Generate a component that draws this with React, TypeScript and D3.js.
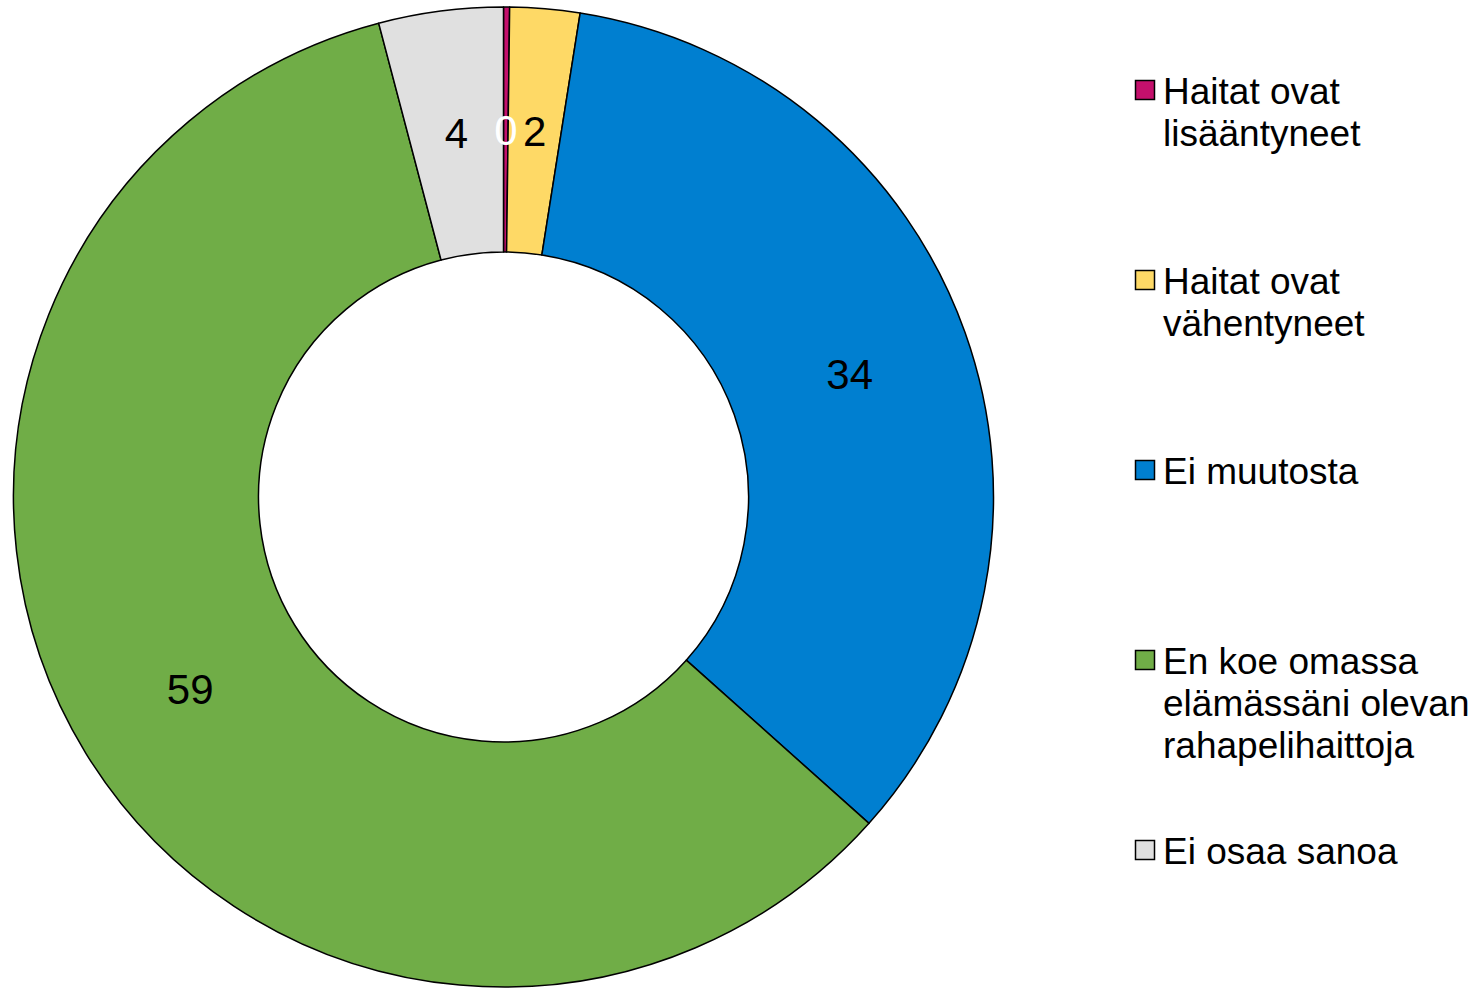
import React from "react";
import * as d3 from "d3";

const categories = [
  "Haitat ovat lisääntyneet",
  "Haitat ovat vähentyneet",
  "Ei muutosta",
  "En koe omassa elämässäni olevan rahapelihaittoja",
  "Ei osaa sanoa",
];
const values = [0.2, 2.3, 34.1, 59.3, 4.1];
const labels = ["0", "2", "34", "59", "4"];
const legendLines = [
  ["Haitat ovat", "lisääntyneet"],
  ["Haitat ovat", "vähentyneet"],
  ["Ei muutosta"],
  ["En koe omassa", "elämässäni olevan", "rahapelihaittoja"],
  ["Ei osaa sanoa"],
];
const colors = ["#C4106C", "#FED966", "#007FD0", "#70AD47", "#E0E0E0"];
const labelColors = ["#FFFFFF", "#000000", "#000000", "#000000", "#000000"];

const W = 1478;
const H = 988;
const cx = 503.5;
const cy = 497;
const outerR = 490;
const innerR = 245;
const font = "'Liberation Sans', Arial, sans-serif";

export default function App() {
  const pie = d3.pie<number>().sort(null).value((d) => d);
  const arcs = pie(values);
  const arc = d3.arc<d3.PieArcDatum<number>>().innerRadius(innerR).outerRadius(outerR);
  const legendY = d3.scaleBand<number>().domain(d3.range(categories.length)).range([-4.5, 945.5]);

  return (
    <svg width={W} height={H} style={{ position: "absolute", left: 0, top: 0, background: "#fff" }}>
      <g transform={`translate(${cx},${cy})`}>
        {arcs.map((a, i) => (
          <path key={i} d={arc(a) || ""} fill={colors[i]} stroke="#000" strokeWidth={1.5} strokeLinejoin="round" />
        ))}
        {arcs.map((a, i) => {
          const [x, y] = arc.centroid(a);
          return (
            <text key={i} x={x} y={y} dy="0.36em" textAnchor="middle" fontFamily={font} fontSize={42} fill={labelColors[i]}>
              {labels[i]}
            </text>
          );
        })}
      </g>
      {categories.map((c, i) => {
        const y0 = (legendY(i) || 0) + legendY.bandwidth() / 2;
        return (
          <g key={c}>
            <rect x={1135.5} y={y0 - 10} width={19} height={19} fill={colors[i]} stroke="#000" strokeWidth={1.5} />
            <text fontFamily={font} fontSize={37} fill="#000">
              {legendLines[i].map((l, j) => (
                <tspan key={j} x={1163} y={y0 + 13 + j * 42}>
                  {l}
                </tspan>
              ))}
            </text>
          </g>
        );
      })}
    </svg>
  );
}
